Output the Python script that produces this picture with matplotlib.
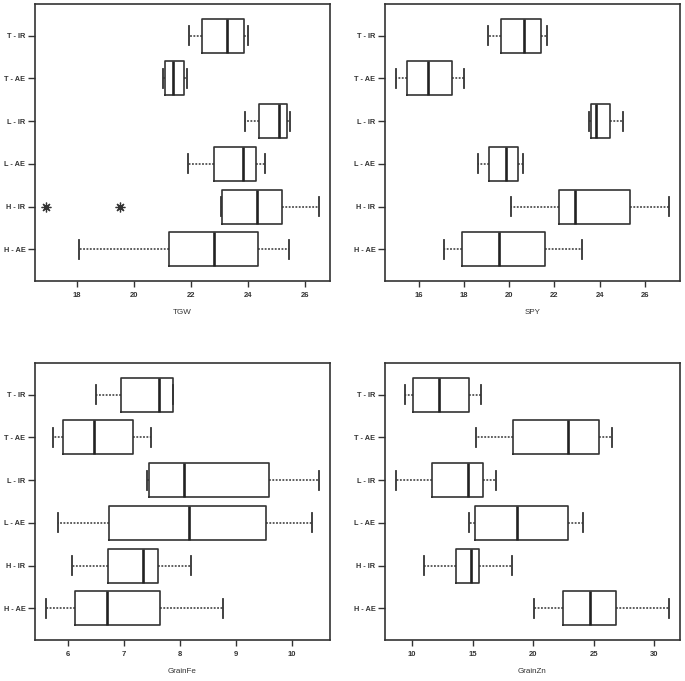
import matplotlib
matplotlib.use("Agg")
from matplotlib import pyplot as plt

plt.rcParams['font.family'] = ['Liberation Sans', 'DejaVu Sans']

groups = ['H - AE', 'H - IR', 'L - AE', 'L - IR', 'T - AE', 'T - IR']

# five-number summaries: whisker low, q1, median, q3, whisker high
tgw_lo  = [18.08, 23.05, 21.89, 23.92, 21.02, 21.95]
tgw_q1  = [21.23, 23.08, 22.81, 24.41, 21.09, 22.40]
tgw_med = [22.80, 24.33, 23.84, 25.09, 21.38, 23.26]
tgw_q3  = [24.36, 25.19, 24.30, 25.38, 21.75, 23.86]
tgw_hi  = [25.45, 26.51, 24.61, 25.49, 21.86, 24.02]
tgw_out = [[], [16.90, 19.50], [], [], [], []]

spy_lo  = [17.09, 20.05, 18.61, 23.52, 14.97, 19.03]
spy_q1  = [17.88, 22.20, 19.10, 23.61, 15.44, 19.65]
spy_med = [19.55, 22.93, 19.86, 23.83, 16.37, 20.65]
spy_q3  = [21.58, 25.34, 20.39, 24.48, 17.46, 21.38]
spy_hi  = [23.21, 27.08, 20.62, 25.04, 17.98, 21.69]

fe_lo  = [5.61, 6.08, 5.83, 7.41, 5.74, 6.51]
fe_q1  = [6.13, 6.72, 6.73, 7.45, 5.92, 6.95]
fe_med = [6.71, 7.35, 8.17, 8.08, 6.46, 7.63]
fe_q3  = [7.65, 7.61, 9.55, 9.59, 7.17, 7.88]
fe_hi  = [8.77, 8.20, 10.36, 10.49, 7.49, 7.88]

zn_lo  = [20.08, 10.94, 14.69, 8.65, 15.26, 9.40]
zn_q1  = [22.43, 13.58, 15.16, 11.60, 18.35, 10.03]
zn_med = [24.74, 14.82, 18.63, 14.63, 22.84, 12.23]
zn_q3  = [26.83, 15.54, 22.87, 15.82, 25.43, 14.71]
zn_hi  = [31.24, 18.24, 24.11, 16.89, 26.50, 15.65]

none = [[]] * 6

panels = [
    ('TGW', tgw_lo, tgw_q1, tgw_med, tgw_q3, tgw_hi, tgw_out, [18, 20, 22, 24, 26]),
    ('SPY', spy_lo, spy_q1, spy_med, spy_q3, spy_hi, none, [16, 18, 20, 22, 24, 26]),
    ('GrainFe', fe_lo, fe_q1, fe_med, fe_q3, fe_hi, none, [6, 7, 8, 9, 10]),
    ('GrainZn', zn_lo, zn_q1, zn_med, zn_q3, zn_hi, none, [10, 15, 20, 25, 30]),
]

W, H = 685, 681
fig = plt.figure(figsize=(W / 100, H / 100), dpi=100)
boxes = [(35, 4), (385, 4), (35, 363), (385, 363)]

for (name, lo, q1, med, q3, hi, out, ticks), (px, py) in zip(panels, boxes):
    ax = fig.add_axes([px / W, (H - py - 277) / H, 295 / W, 277 / H])
    stats = []
    for i in range(len(groups)):
        stats.append(dict(whislo=lo[i], q1=q1[i], med=med[i], q3=q3[i],
                          whishi=hi[i], fliers=out[i], label=groups[i]))
    ax.bxp(stats, positions=range(1, 7), vert=False, widths=0.8, capwidths=0.45,
           boxprops=dict(color='#333333', linewidth=1.2),
           medianprops=dict(color='#222222', linewidth=1.9),
           whiskerprops=dict(color='#333333', linewidth=1.1, linestyle=(0, (1.2, 1.0))),
           capprops=dict(color='#333333', linewidth=1.3),
           flierprops=dict(marker=(8, 2, 0), markersize=7, markeredgecolor='#333333',
                           markeredgewidth=0.9, linestyle='none'))
    allv = lo + hi + [v for o in out for v in o]
    lo_v, hi_v = min(allv), max(allv)
    pad = 0.04 * (hi_v - lo_v)
    ax.set_xlim(lo_v - pad, hi_v + pad)
    ax.set_ylim(0.26, 6.74)
    ax.set_xticks(ticks)
    ax.set_xticklabels([str(t) for t in ticks], fontsize=5.5, fontweight='bold', color='#333333')
    ax.set_yticks(range(1, 7))
    ax.set_yticklabels(groups, fontsize=5.3, fontweight='bold', color='#333333')
    ax.tick_params(axis='x', length=4, pad=4, width=1, color='#333333')
    ax.tick_params(axis='y', length=5, pad=2, width=1, color='#333333')
    ax.set_xlabel(name, fontsize=5.8, color='#333333', labelpad=7)
    for s in ax.spines.values():
        s.set_linewidth(1.2)
        s.set_color('#333333')

fig.savefig('out.png', dpi=100)
